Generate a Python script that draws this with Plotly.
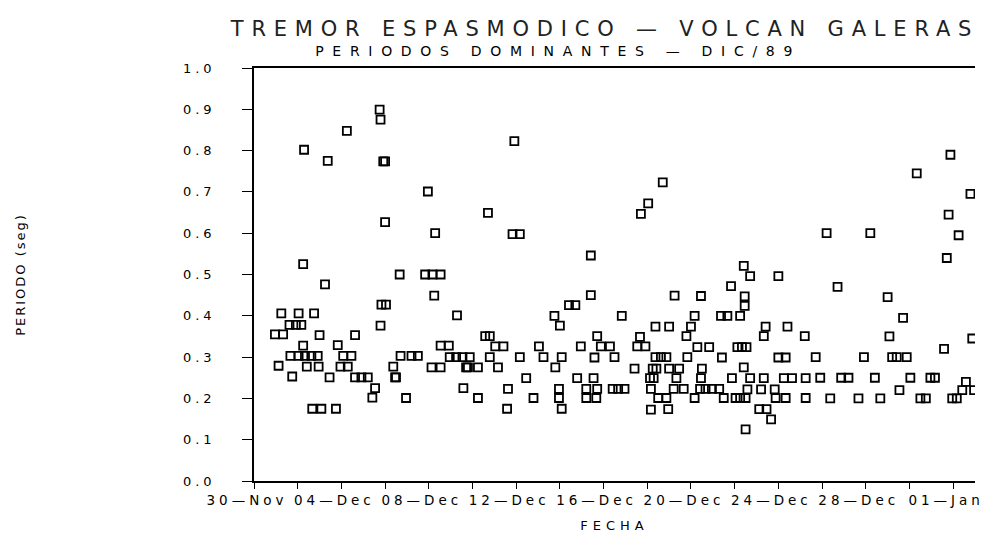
import plotly.graph_objects as go

fecha = [
    "1989-11-30 23:00",
    "1989-12-01 03:00", "1989-12-01 06:00", "1989-12-01 08:00", "1989-12-01 15:00", "1989-12-01 16:00", "1989-12-01 18:00", "1989-12-01 22:00",
    "1989-12-02 01:00", "1989-12-02 01:00", "1989-12-02 04:00", "1989-12-02 06:00", "1989-12-02 06:00", "1989-12-02 07:00", "1989-12-02 08:00",
    "1989-12-02 10:00", "1989-12-02 15:00", "1989-12-02 16:00", "1989-12-02 18:00", "1989-12-02 22:00", "1989-12-02 23:00",
    "1989-12-03 00:00", "1989-12-03 02:00", "1989-12-03 06:00", "1989-12-03 09:00", "1989-12-03 11:00", "1989-12-03 18:00", "1989-12-03 20:00", "1989-12-03 23:00",
    "1989-12-04 02:00", "1989-12-04 06:00", "1989-12-04 07:00", "1989-12-04 11:00", "1989-12-04 15:00", "1989-12-04 15:00", "1989-12-04 22:00",
    "1989-12-05 05:00", "1989-12-05 10:00", "1989-12-05 13:00", "1989-12-05 18:00", "1989-12-05 19:00", "1989-12-05 19:00", "1989-12-05 20:00", "1989-12-05 22:00",
    "1989-12-06 00:00", "1989-12-06 00:00", "1989-12-06 01:00", "1989-12-06 09:00", "1989-12-06 11:00", "1989-12-06 12:00", "1989-12-06 16:00", "1989-12-06 17:00", "1989-12-06 23:00",
    "1989-12-07 05:00", "1989-12-07 12:00", "1989-12-07 20:00", "1989-12-07 23:00",
    "1989-12-08 03:00", "1989-12-08 04:00", "1989-12-08 06:00", "1989-12-08 07:00", "1989-12-08 13:00", "1989-12-08 13:00", "1989-12-08 13:00", "1989-12-08 22:00", "1989-12-08 23:00",
    "1989-12-09 06:00", "1989-12-09 07:00", "1989-12-09 13:00", "1989-12-09 14:00", "1989-12-09 17:00", "1989-12-09 19:00", "1989-12-09 21:00",
    "1989-12-10 06:00", "1989-12-10 06:00", "1989-12-10 14:00", "1989-12-10 17:00", "1989-12-10 19:00", "1989-12-10 19:00",
    "1989-12-11 01:00", "1989-12-11 04:00", "1989-12-11 10:00", "1989-12-11 14:00", "1989-12-11 15:00", "1989-12-11 20:00", "1989-12-11 22:00",
    "1989-12-12 04:00", "1989-12-12 04:00", "1989-12-12 11:00", "1989-12-12 19:00",
    "1989-12-13 01:00", "1989-12-13 06:00", "1989-12-13 18:00", "1989-12-13 19:00", "1989-12-13 23:00", "1989-12-13 23:00",
    "1989-12-14 00:00", "1989-12-14 02:00", "1989-12-14 02:00", "1989-12-14 10:00", "1989-12-14 17:00", "1989-12-14 19:00", "1989-12-14 23:00",
    "1989-12-15 05:00", "1989-12-15 05:00", "1989-12-15 10:00", "1989-12-15 10:00", "1989-12-15 13:00", "1989-12-15 14:00", "1989-12-15 16:00",
    "1989-12-15 17:00", "1989-12-15 17:00", "1989-12-15 21:00",
    "1989-12-16 07:00", "1989-12-16 10:00", "1989-12-16 12:00", "1989-12-16 16:00", "1989-12-16 20:00", "1989-12-16 23:00",
    "1989-12-17 10:00", "1989-12-17 13:00", "1989-12-17 16:00", "1989-12-17 17:00", "1989-12-17 22:00",
    "1989-12-18 01:00", "1989-12-18 03:00", "1989-12-18 04:00", "1989-12-18 04:00", "1989-12-18 06:00", "1989-12-18 07:00", "1989-12-18 09:00",
    "1989-12-18 09:00", "1989-12-18 10:00", "1989-12-18 12:00", "1989-12-18 15:00", "1989-12-18 17:00", "1989-12-18 21:00", "1989-12-18 21:00", "1989-12-18 23:00",
    "1989-12-19 00:00", "1989-12-19 00:00", "1989-12-19 05:00", "1989-12-19 06:00", "1989-12-19 08:00", "1989-12-19 11:00", "1989-12-19 16:00", "1989-12-19 19:00", "1989-12-19 20:00",
    "1989-12-20 00:00", "1989-12-20 04:00", "1989-12-20 04:00", "1989-12-20 07:00", "1989-12-20 10:00", "1989-12-20 11:00", "1989-12-20 11:00",
    "1989-12-20 12:00", "1989-12-20 16:00", "1989-12-20 20:00", "1989-12-20 23:00",
    "1989-12-21 07:00", "1989-12-21 09:00", "1989-12-21 10:00", "1989-12-21 12:00", "1989-12-21 16:00", "1989-12-21 20:00", "1989-12-21 21:00",
    "1989-12-22 01:00", "1989-12-22 03:00", "1989-12-22 06:00", "1989-12-22 06:00", "1989-12-22 08:00", "1989-12-22 10:00", "1989-12-22 10:00",
    "1989-12-22 11:00", "1989-12-22 11:00", "1989-12-22 12:00", "1989-12-22 12:00", "1989-12-22 13:00", "1989-12-22 14:00", "1989-12-22 17:00", "1989-12-22 17:00",
    "1989-12-23 03:00", "1989-12-23 05:00", "1989-12-23 08:00", "1989-12-23 08:00", "1989-12-23 10:00", "1989-12-23 11:00", "1989-12-23 16:00", "1989-12-23 20:00", "1989-12-23 21:00",
    "1989-12-24 00:00", "1989-12-24 00:00", "1989-12-24 06:00", "1989-12-24 08:00", "1989-12-24 08:00", "1989-12-24 10:00", "1989-12-24 15:00",
    "1989-12-25 05:00", "1989-12-25 06:00", "1989-12-25 06:00", "1989-12-25 17:00", "1989-12-25 22:00",
    "1989-12-26 05:00", "1989-12-26 09:00", "1989-12-26 17:00", "1989-12-26 21:00",
    "1989-12-27 05:00", "1989-12-27 16:00", "1989-12-27 22:00",
    "1989-12-28 05:00", "1989-12-28 10:00", "1989-12-28 16:00",
    "1989-12-29 00:00", "1989-12-29 02:00", "1989-12-29 05:00", "1989-12-29 10:00", "1989-12-29 13:00", "1989-12-29 17:00", "1989-12-29 21:00",
    "1989-12-30 01:00", "1989-12-30 08:00", "1989-12-30 12:00", "1989-12-30 18:00", "1989-12-30 23:00",
    "1989-12-31 04:00", "1989-12-31 14:00", "1989-12-31 17:00", "1989-12-31 19:00", "1989-12-31 21:00", "1989-12-31 23:00",
    "1990-01-01 04:00", "1990-01-01 06:00", "1990-01-01 10:00", "1990-01-01 14:00", "1990-01-01 19:00", "1990-01-01 21:00", "1990-01-01 23:00",
]

periodo = [
    0.355,
    0.279, 0.406, 0.355, 0.378, 0.303, 0.253, 0.378,
    0.406, 0.303, 0.378, 0.525, 0.328, 0.802, 0.303,
    0.277, 0.303, 0.175, 0.406, 0.303, 0.277,
    0.353, 0.175, 0.476, 0.775, 0.251, 0.175, 0.329, 0.277,
    0.303, 0.848, 0.277, 0.303, 0.353, 0.251, 0.251,
    0.251, 0.202, 0.225, 0.899, 0.875, 0.376, 0.427, 0.774,
    0.774, 0.627, 0.427, 0.277, 0.251, 0.251, 0.500, 0.303, 0.201,
    0.303, 0.303, 0.500, 0.701,
    0.275, 0.500, 0.449, 0.600, 0.500, 0.328, 0.275, 0.328, 0.300,
    0.300, 0.401, 0.300, 0.225, 0.275, 0.275, 0.300,
    0.275, 0.201, 0.351, 0.649, 0.351, 0.300,
    0.326, 0.275, 0.326, 0.175, 0.223, 0.598, 0.823,
    0.598, 0.300, 0.249, 0.201,
    0.326, 0.300, 0.400, 0.275, 0.223, 0.201,
    0.376, 0.300, 0.175, 0.426, 0.426, 0.249, 0.326,
    0.223, 0.201, 0.546, 0.450, 0.249, 0.299, 0.201,
    0.351, 0.223, 0.326,
    0.326, 0.223, 0.300, 0.223, 0.400, 0.223,
    0.272, 0.326, 0.349, 0.647, 0.326,
    0.672, 0.249, 0.223, 0.173, 0.272, 0.249, 0.374,
    0.300, 0.272, 0.201, 0.300, 0.723, 0.300, 0.201, 0.174,
    0.374, 0.272, 0.223, 0.449, 0.249, 0.272, 0.223, 0.351, 0.300,
    0.374, 0.400, 0.201, 0.324, 0.223, 0.448, 0.249,
    0.272, 0.223, 0.324, 0.223,
    0.223, 0.400, 0.299, 0.201, 0.400, 0.472, 0.249,
    0.201, 0.324, 0.400, 0.201, 0.324, 0.521, 0.275,
    0.447, 0.424, 0.201, 0.125, 0.324, 0.222, 0.496, 0.249,
    0.174, 0.222, 0.351, 0.249, 0.374, 0.174, 0.149, 0.222, 0.201,
    0.496, 0.299, 0.249, 0.299, 0.201, 0.374, 0.249,
    0.351, 0.249, 0.201, 0.300, 0.250,
    0.600, 0.200, 0.470, 0.250,
    0.250, 0.200, 0.300,
    0.600, 0.250, 0.200,
    0.445, 0.350, 0.300, 0.300, 0.220, 0.395, 0.300,
    0.250, 0.745, 0.200, 0.200, 0.250,
    0.250, 0.320, 0.540, 0.645, 0.790, 0.200,
    0.200, 0.595, 0.220, 0.240, 0.695, 0.345, 0.220,
]

fechas_etiquetas = ["1989-11-30", "1989-12-04", "1989-12-08", "1989-12-12", "1989-12-16",
                    "1989-12-20", "1989-12-24", "1989-12-28", "1990-01-01"]
etiquetas_x = ["30—Nov", "04—Dec", "08—Dec", "12—Dec", "16—Dec",
               "20—Dec", "24—Dec", "28—Dec", "01—Jan"]
valores_y = [0.0, 0.1, 0.2, 0.3, 0.4, 0.5, 0.6, 0.7, 0.8, 0.9, 1.0]
etiquetas_y = ["0.0", "0.1", "0.2", "0.3", "0.4", "0.5", "0.6", "0.7", "0.8", "0.9", "1.0"]

FONT = "DejaVu Sans"

fig = go.Figure(
    go.Scatter(
        x=fecha, y=periodo, mode="markers",
        marker=dict(symbol="square-open", size=8, color="black",
                    line=dict(width=1.8, color="black")),
        hoverinfo="x+y",
    )
)

fig.update_layout(
    width=996, height=535,
    margin=dict(l=244, r=29, t=60, b=60),
    paper_bgcolor="white", plot_bgcolor="white",
    showlegend=False,
    font=dict(family=FONT, color="black", size=13),
    title=dict(text="TREMOR ESPASMODICO — VOLCAN GALERAS",
               x=0.5994, xanchor="center", xref="container",
               y=1 - 21 / 535, yanchor="middle", yref="container",
               font=dict(family=FONT, size=21, color="#222")),
    annotations=[dict(text="PERIODOS DOMINANTES — DIC/89",
                      xref="paper", yref="paper", x=0.4219, y=1.041,
                      xanchor="center", yanchor="middle", showarrow=False,
                      font=dict(family=FONT, size=14, color="black"))],
)

fig.update_xaxes(
    type="date",
    range=["1989-11-30 00:00", "1990-01-02 00:00"],
    tickvals=fechas_etiquetas, ticktext=etiquetas_x,
    ticks="outside", ticklen=6, tickwidth=1.2, tickcolor="black",
    minor=dict(ticks="outside", ticklen=6, tickwidth=1.2, tickcolor="black",
               dtick=2 * 86400000, tick0="1989-11-30", showgrid=False),
    showline=True, linecolor="black", linewidth=1.6, mirror=True,
    showgrid=False, zeroline=False,
    tickfont=dict(family=FONT, size=13.5),
    ticklabelshift=-7,
    title=dict(text="FECHA", standoff=14, font=dict(family=FONT, size=13)),
)

fig.update_yaxes(
    range=[0, 1.0],
    tickvals=valores_y, ticktext=etiquetas_y,
    ticks="outside", ticklen=10, tickwidth=1.2, tickcolor="black",
    showline=True, linecolor="black", linewidth=1.6,
    showgrid=False, zeroline=False,
    tickfont=dict(family=FONT, size=13),
    ticklabelstandoff=24,
    title=dict(text="PERIODO (seg)", standoff=166, font=dict(family=FONT, size=13)),
)

espaciado = """
function ls(sel, v) {
  document.querySelectorAll(sel).forEach(function (t) { t.style.letterSpacing = v; });
}
ls('text.gtitle', '7.8px');
ls('text.annotation-text', '8.7px');
ls('.ytick text', '4px');
ls('.xtick text', '4px');
ls('text.xtitle', '5px');
ls('text.ytitle', '2px');
"""

fig.write_html("out.html", post_script=espaciado)
